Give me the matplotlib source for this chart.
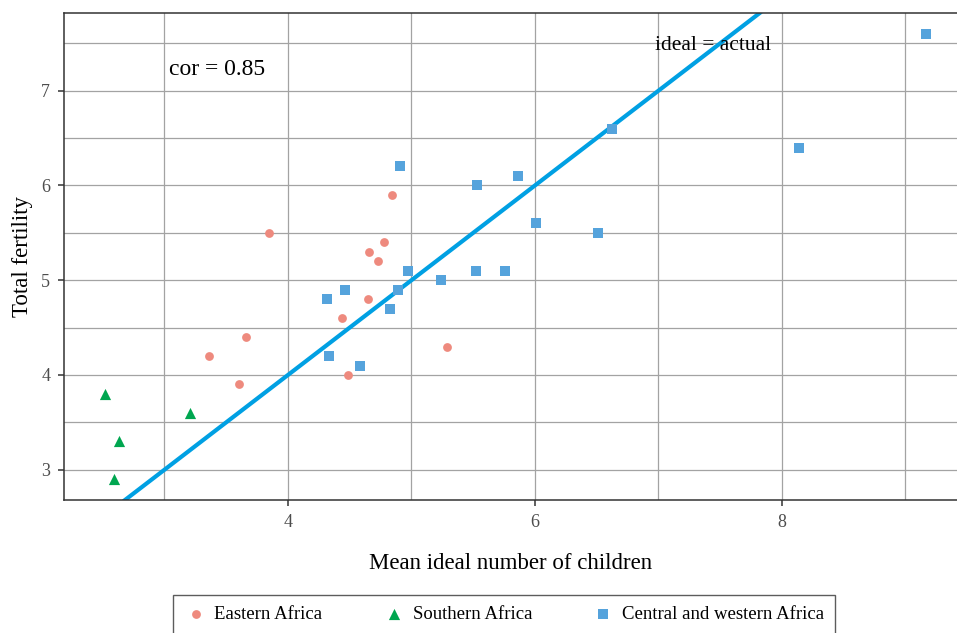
import matplotlib.pyplot as plt
from matplotlib.ticker import MultipleLocator

# data
east_ideal = [3.85, 3.66, 3.36, 3.60, 4.84, 4.775, 4.655, 4.73, 4.645, 4.44, 4.49, 5.29]
east_tfr = [5.5, 4.4, 4.2, 3.9, 5.9, 5.4, 5.3, 5.2, 4.8, 4.6, 4.0, 4.3]

south_ideal = [2.52, 2.63, 2.59, 3.21]
south_tfr = [3.8, 3.3, 2.9, 3.6]

cw_ideal = [4.91, 4.97, 5.24, 4.46, 4.32, 4.89, 4.83, 4.33, 4.58,
            5.53, 5.86, 6.01, 6.51, 5.52, 5.76, 6.62, 8.14, 9.17]
cw_tfr = [6.2, 5.1, 5.0, 4.9, 4.8, 4.9, 4.7, 4.2, 4.1,
          6.0, 6.1, 5.6, 5.5, 5.1, 5.1, 6.6, 6.4, 7.6]

cor_value = 0.85

plt.rcParams['font.family'] = ['Liberation Serif', 'DejaVu Serif']

fig = plt.figure(figsize=(9.57, 6.33), dpi=100)
# plot panel runs off the right edge, as in the reference
ax = fig.add_axes([0.0669, 0.21, 0.9331, 0.7695])

ax.set_xlim(2.187, 9.417)
ax.set_ylim(2.68, 7.82)

ax.xaxis.set_major_locator(MultipleLocator(2))
ax.xaxis.set_minor_locator(MultipleLocator(1))
ax.yaxis.set_major_locator(MultipleLocator(1))
ax.yaxis.set_minor_locator(MultipleLocator(0.5))
ax.grid(True, which='both', color='#a3a3a3', linewidth=0.9)
ax.set_axisbelow(True)

# ideal = actual line
ax.axline((3, 3), slope=1, color='#00a0e3', linewidth=3, zorder=2)

ax.scatter(east_ideal, east_tfr, marker='o', s=40, color='#ee8a7e',
           label='Eastern Africa', zorder=3, linewidths=0)
ax.scatter(south_ideal, south_tfr, marker='^', s=65, color='#00a650',
           label='Southern Africa', zorder=3, linewidths=0)
ax.scatter(cw_ideal, cw_tfr, marker='s', s=52, color='#55a3dc',
           label='Central and western Africa', zorder=3, linewidths=0)

ax.text(3.04, 7.22, f"cor = {cor_value}", fontsize=17, va='center', ha='left')
ax.text(6.97, 7.475, "ideal = actual", fontsize=15.5, va='center', ha='left',
        zorder=4)

for side in ['left', 'bottom', 'top']:
    ax.spines[side].set_color('#333333')
    ax.spines[side].set_linewidth(1.1)
ax.spines['right'].set_visible(False)

ax.tick_params(which='major', direction='out', length=4, width=1.1,
               color='#333333', labelcolor='#4d4d4d', labelsize=13, pad=6)
ax.tick_params(which='minor', length=0)

ax.set_xlabel("Mean ideal number of children", fontsize=16.5, labelpad=16)
ax.set_ylabel("Total fertility", fontsize=16.5, labelpad=6)

leg = fig.legend(loc='upper center', bbox_to_anchor=(0.527, 0.06), ncol=3,
                 fontsize=13.5, frameon=True, fancybox=False, edgecolor='#333333',
                 borderpad=0.6, borderaxespad=0, columnspacing=3.2,
                 handletextpad=0.4, handlelength=1.2)
leg.get_frame().set_linewidth(1.0)

plt.savefig("out.png", dpi=100)
